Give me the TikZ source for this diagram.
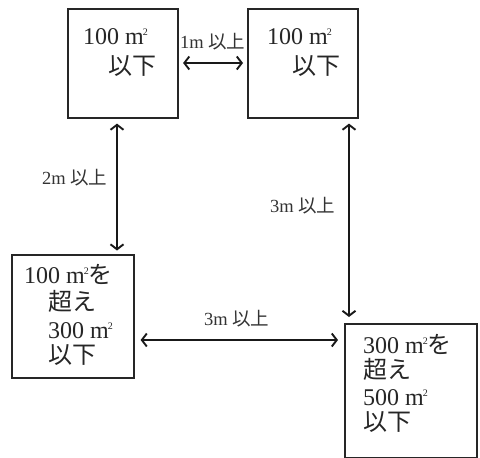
\documentclass[tikz,border=0pt]{standalone}
\usepackage{fontspec}
\setmainfont{Liberation Serif}
\newfontfamily\cjk{Noto Sans CJK JP}
\usetikzlibrary{arrows.meta}
\newcommand{\sqm}{m\kern-1pt\raisebox{0.75ex}{\fontsize{10}{10}\selectfont 2}}
\begin{document}
\begin{tikzpicture}[x=1pt,y=-1pt,
  box/.style={draw=black!85,line width=1.6pt,rectangle,inner sep=0pt,anchor=north west},
  boxtxt/.style={anchor=base west,inner sep=0pt,font=\fontsize{24}{28}\selectfont,text=black!85},
  lbl/.style={anchor=base west,inner sep=0pt,font=\fontsize{18.5}{22}\selectfont,text=black!80},
  arr/.style={line width=1.9pt,draw=black!90,{Straight Barb[length=5pt,width=13pt,line width=1.9pt]}-{Straight Barb[length=5pt,width=13pt,line width=1.9pt]}}]
\useasboundingbox (0,0) rectangle (480,458);
\fill[white] (0,0) rectangle (480,458);
% boxes
\node[box,minimum width=110pt,minimum height=109pt] (A) at (67,8) {};
\node[box,minimum width=110pt,minimum height=109pt] (B) at (247,8) {};
\node[box,minimum width=122pt,minimum height=123pt] (C) at (11,254) {};
\node[box,minimum width=132pt,minimum height=134pt] (D) at (344,323) {};
% box texts
\node[boxtxt] (a1) at (83,44) {100 \sqm};
\node[boxtxt] (a2) at (108,74) {\cjk 以下};
\node[boxtxt] (b1) at (267,44) {100 \sqm};
\node[boxtxt] (b2) at (292,74) {\cjk 以下};
\node[boxtxt] (c1) at (24,283) {100 \sqm{\cjk を}};
\node[boxtxt] (c2) at (48,310) {\cjk 超え};
\node[boxtxt] (c3) at (48,338) {300 \sqm};
\node[boxtxt] (c4) at (48,363) {\cjk 以下};
\node[boxtxt] (d1) at (363,353) {300 \sqm{\cjk を}};
\node[boxtxt] (d2) at (363,378) {\cjk 超え};
\node[boxtxt] (d3) at (363,405) {500 \sqm};
\node[boxtxt] (d4) at (363,430) {\cjk 以下};
% labels
\node[lbl] (l1) at (180,48) {1m {\cjk 以上}};
\node[lbl] (l2) at (42,184) {2m {\cjk 以上}};
\node[lbl] (l3) at (270,212) {3m {\cjk 以上}};
\node[lbl] (l4) at (204,325) {3m {\cjk 以上}};
% connectors
\coordinate (ab) at (0,63);
\draw[arr,shorten <=4.5pt,shorten >=4pt] (A.east |- ab) -- (B.west |- ab);
\coordinate (ac) at (117,0);
\draw[arr,shorten <=5pt,shorten >=3.5pt] (A.south -| ac) -- (C.north -| ac);
\coordinate (bd) at (349,0);
\draw[arr,shorten <=5pt,shorten >=6pt] (B.south -| bd) -- (D.north -| bd);
\coordinate (cd) at (0,340);
\draw[arr,shorten <=6pt,shorten >=6pt] (C.east |- cd) -- (D.west |- cd);
\end{tikzpicture}
\end{document}
